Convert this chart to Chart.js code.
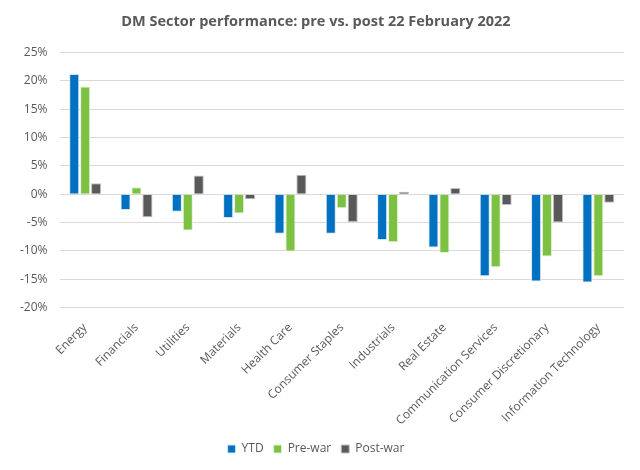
<!DOCTYPE html>
<html>
<head>
<meta charset="utf-8">
<script src="https://cdn.jsdelivr.net/npm/chart.js@4.4.1/dist/chart.umd.min.js"></script>
<style>
	html, body { margin: 0; padding: 0; background: #fff; }
	#wrap { width: 640px; height: 470px; position: relative; }
</style>
</head>
<body>
<div id="wrap"><canvas id="sectorBar"></canvas></div>
<script>
"use strict";

var sectors = ["Energy", "Financials", "Utilities", "Materials", "Health Care", "Consumer Staples", "Industrials", "Real Estate", "Communication Services", "Consumer Discretionary", "Information Technology"];
var ytd = [21.2, -2.8, -3.1, -4.2, -7.0, -7.0, -8.1, -9.4, -14.5, -15.4, -15.6];
var preWar = [19.0, 1.2, -6.4, -3.4, -10.1, -2.5, -8.5, -10.4, -12.9, -11.0, -14.5];
var postWar = [1.9, -4.1, 3.3, -0.9, 3.4, -4.9, 0.4, 1.1, -1.9, -5.0, -1.5];
var yMin = -20;
var yMax = 25;
var yStep = 5;

var fontFamily = "'Open Sans', 'Noto Sans', sans-serif";
var textColor = "#595959";

// Initialize Sector Bar
function initSectorBar() {
	var sectorBar = document.getElementById("sectorBar");
	new Chart(sectorBar, {
		type: "bar",
		data: {
			labels: sectors,
			datasets: [
				{
					label: "YTD",
					data: ytd,
					backgroundColor: "#0070C0",
					borderColor: "#d6e6f4",
					borderWidth: 1,
				},
				{
					label: "Pre-war",
					data: preWar,
					backgroundColor: "#7DC142",
					borderColor: "#e3f1d6",
					borderWidth: 1,
				},
				{
					label: "Post-war",
					data: postWar,
					backgroundColor: "#595959",
					borderColor: "#bfbfbf",
					borderWidth: 1,
				},
			],
		},
		options: {
			responsive: true,
			maintainAspectRatio: false,
			animation: false,
			barPercentage: 0.92,
			categoryPercentage: 0.64,
			layout: {
				padding: { left: 8, right: 16, top: 0, bottom: 5 },
			},
			scales: {
				y: {
					min: yMin,
					max: yMax,
					grid: {
						color: "#d9d9d9",
						lineWidth: 1,
						drawTicks: false,
					},
					border: {
						display: false,
					},
					ticks: {
						stepSize: yStep,
						padding: 12,
						color: textColor,
						font: {
							family: fontFamily,
							size: 12,
						},
						callback: function (value) {
							return value + "%";
						},
					},
				},
				x: {
					grid: {
						display: false,
					},
					border: {
						display: false,
					},
					ticks: {
						minRotation: 45,
						maxRotation: 45,
						autoSkip: false,
						padding: 5,
						color: textColor,
						font: {
							family: fontFamily,
							size: 12,
						},
					},
				},
			},
			plugins: {
				title: {
					display: true,
					text: "DM Sector performance: pre vs. post 22 February 2022",
					color: textColor,
					padding: { top: 13, bottom: 22 },
					font: {
						family: fontFamily,
						size: 14.5,
						weight: "bold",
					},
				},
				legend: {
					position: "bottom",
					labels: {
						boxWidth: 8,
						boxHeight: 8,
						padding: 10,
						color: textColor,
						font: {
							family: fontFamily,
							size: 12,
						},
					},
				},
				tooltip: {
					enabled: false,
				},
			},
		},
	});
}

(function () {
	initSectorBar();
})();
</script>
</body>
</html>
